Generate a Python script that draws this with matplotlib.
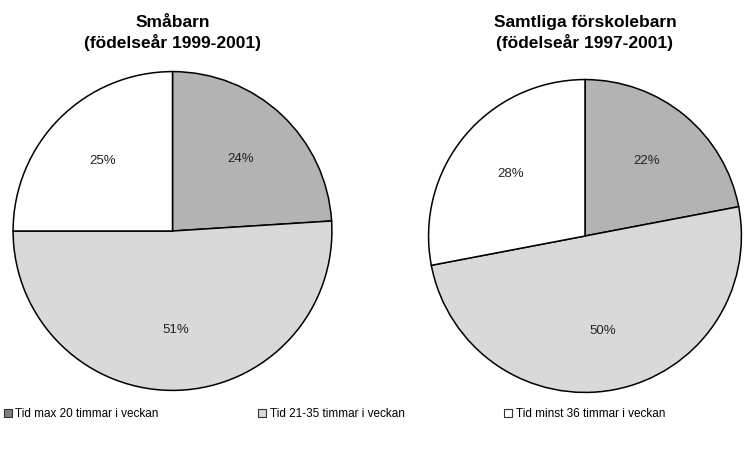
import matplotlib.pyplot as plt
from matplotlib.patches import Patch

# Andel barn per omsorgstid
kategorier = ['Tid max 20 timmar i veckan', 'Tid 21-35 timmar i veckan', 'Tid minst 36 timmar i veckan']
smabarn = [24, 51, 25]
samtliga = [22, 50, 28]
titlar = ['Småbarn\n(födelseår 1999-2001)', 'Samtliga förskolebarn\n(födelseår 1997-2001)']

farger = ['#b3b3b3', '#d9d9d9', '#ffffff']
legend_farger = ['#808080', '#d9d9d9', '#ffffff']

plt.rcParams['font.family'] = ['Liberation Sans', 'DejaVu Sans']

fig = plt.figure(figsize=(7.44, 4.5), dpi=100)
W, H = 744, 450

# cirklarnas placering i pixlar: (centrum x, centrum y uppifrån, radie)
placering = [(172.5, 231, 161), (585, 236, 158)]

for data, titel, (cx, cy, r) in zip([smabarn, samtliga], titlar, placering):
    ax = fig.add_axes([(cx - r) / W, (H - cy - r) / H, 2 * r / W, 2 * r / H])
    ax.pie(data, colors=farger, startangle=90, counterclock=False,
           autopct='%d%%', pctdistance=0.62, radius=1,
           wedgeprops=dict(edgecolor='black', linewidth=1.1),
           textprops=dict(fontsize=9.5, color='#222222'))
    ax.set_xlim(-1.01, 1.01)
    ax.set_ylim(-1.01, 1.01)
    ax.set_aspect('equal')
    fig.text(cx / W, 1 - 33 / H, titel, ha='center', va='center',
             fontsize=12.5, fontweight='bold', linespacing=1.25)

handles = [Patch(facecolor=c, edgecolor='#333333', linewidth=0.8) for c in legend_farger]
fig.legend(handles, kategorier, loc='center left', bbox_to_anchor=(0.0, 1 - 414 / H),
           ncol=3, frameon=False, handlelength=0.7, handleheight=0.7,
           handletextpad=0.3, columnspacing=8.4, borderaxespad=0, borderpad=0.3,
           prop={'size': 8.5})

fig.savefig('out.png', dpi=100)
